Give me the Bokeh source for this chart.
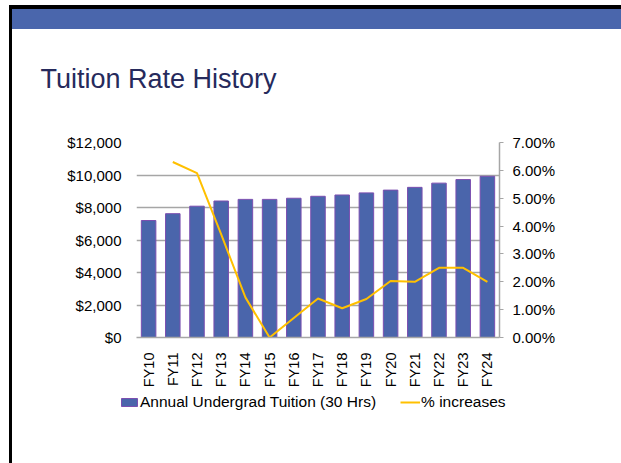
from bokeh.plotting import figure
from bokeh.layouts import column
from bokeh.models import (Range1d, LinearAxis, FixedTicker, NumeralTickFormatter,
                          Legend, LegendItem, ColumnDataSource, Label)
from bokeh.embed import file_html
from bokeh.resources import INLINE
from math import pi, nan

# ---- data ----
years = ["FY10", "FY11", "FY12", "FY13", "FY14", "FY15", "FY16", "FY17",
         "FY18", "FY19", "FY20", "FY21", "FY22", "FY23", "FY24"]
tuition = [7200, 7620, 8080, 8400, 8500, 8500, 8570, 8690,
           8770, 8900, 9070, 9240, 9500, 9720, 9920]
pct_years = ["FY11", "FY12", "FY13", "FY14", "FY15", "FY16", "FY17",
             "FY18", "FY19", "FY20", "FY21", "FY22", "FY23", "FY24"]
pct_increase = [0.063, 0.059, 0.037, 0.0144, 0.0, 0.007, 0.014,
                0.0105, 0.0138, 0.0203, 0.020, 0.025, 0.025, 0.020]
left_ticks = [0, 2000, 4000, 6000, 8000, 10000, 12000]
right_ticks = [0.0, 0.01, 0.02, 0.03, 0.04, 0.05, 0.06, 0.07]
chart_title = "Tuition Rate History"
bar_label = "Annual Undergrad Tuition (30 Hrs)"
line_label = "% increases"

FONT = "Liberation Sans"
BAR_FILL, BAR_LINE, LINE_COLOR = "#4a65ab", "#7b4fb0", "#ffc000"
W = 621
H_HEAD, H_MAIN, H_LEG = 130, 260, 73
FL, FR = 136, 499
FT, FB = 142 - H_HEAD, 339 - H_HEAD


def no_align(f):
    if "frame_align" in f.properties():
        f.frame_align = False
    return f


def bare(height, xr, yr):
    f = figure(width=W, height=height, x_range=xr, y_range=yr,
               output_backend="svg", toolbar_location=None,
               x_axis_location=None, y_axis_location=None,
               min_border_left=0, min_border_right=0,
               min_border_top=0, min_border_bottom=0)
    f.outline_line_color = None
    f.background_fill_color = None
    f.border_fill_color = None
    f.grid.grid_line_color = None
    return no_align(f)


# ---- header (title) ----
head = bare(H_HEAD, Range1d(0, W), Range1d(H_HEAD, 0))
head.add_layout(Label(x=40, y=78, text=chart_title, text_font=FONT,
                      text_font_size="27px", text_color="#262a5c",
                      text_baseline="alphabetic", text_align="left"))

# ---- main chart ----
p = figure(width=W, height=H_MAIN, x_range=years, y_range=Range1d(0, 12000),
           output_backend="svg", toolbar_location=None,
           min_border_left=FL, min_border_right=W - FR,
           min_border_top=FT, min_border_bottom=H_MAIN - FB)
no_align(p)
p.outline_line_color = None
p.background_fill_color = "white"
p.border_fill_color = None
p.extra_y_ranges = {"pct": Range1d(0, 0.07)}

ax = p.yaxis[0]
ax.ticker = FixedTicker(ticks=left_ticks)
ax.formatter = NumeralTickFormatter(format="$0,0")
ax.axis_line_color = None
ax.major_tick_line_color = None
ax.minor_tick_line_color = None
ax.major_label_standoff = 9
ax.major_label_text_font = FONT
ax.major_label_text_font_size = "15px"
ax.major_label_text_color = "black"

bx = p.xaxis[0]
bx.axis_line_color = "#a6a6a6"
bx.axis_line_width = 1.5
bx.major_tick_line_color = None
bx.minor_tick_line_color = None
bx.major_label_orientation = pi / 2
bx.major_label_standoff = 9
bx.major_label_text_font = FONT
bx.major_label_text_font_size = "14.5px"
bx.major_label_text_color = "black"

rax = LinearAxis(y_range_name="pct", ticker=FixedTicker(ticks=right_ticks),
                 formatter=NumeralTickFormatter(format="0.00%"))
rax.axis_line_color = "#a6a6a6"
rax.axis_line_width = 1.5
rax.major_tick_line_color = "#a6a6a6"
rax.major_tick_out = 4
rax.major_tick_in = 0
rax.minor_tick_line_color = None
rax.major_label_standoff = 9
rax.major_label_text_font = FONT
rax.major_label_text_font_size = "15px"
rax.major_label_text_color = "black"
p.add_layout(rax, "right")

p.xgrid.grid_line_color = None
p.ygrid.grid_line_color = "#a6a6a6"
p.ygrid.grid_line_width = 1.5
p.ygrid.ticker = FixedTicker(ticks=left_ticks)

src = ColumnDataSource(dict(x=years, y=tuition))
p.vbar(x="x", top="y", width=0.6, source=src,
       fill_color=BAR_FILL, line_color=BAR_LINE, line_width=1)
lsrc = ColumnDataSource(dict(x=pct_years, y=pct_increase))
p.line(x="x", y="y", source=lsrc, y_range_name="pct",
       line_color=LINE_COLOR, line_width=2)

# ---- legend strip (renderers here only supply legend swatches) ----
leg = bare(H_LEG, Range1d(0, 1), Range1d(0, 1))
r_bar = leg.vbar(x=[nan], top=[nan], width=0.6, fill_color=BAR_FILL,
                 line_color=BAR_LINE, line_width=1)
r_line = leg.line(x=[nan], y=[nan], line_color=LINE_COLOR, line_width=2)
legend = Legend(items=[LegendItem(label=bar_label, renderers=[r_bar]),
                       LegendItem(label=line_label, renderers=[r_line])],
                orientation="horizontal", location=(119, 52),
                padding=0, margin=0, spacing=24, label_standoff=1,
                glyph_width=20, glyph_height=10, label_height=18,
                border_line_color=None, background_fill_alpha=0,
                label_text_font=FONT, label_text_font_size="15.5px",
                label_text_color="black")
leg.add_layout(legend, "center")

layout = column(head, p, leg, spacing=0)
layout.styles = {
    "background": ("linear-gradient(#000,#000) 9px 5px / 3px 100% no-repeat, "
                   "linear-gradient(#000,#000) 9px 5px / 100% 4px no-repeat, "
                   "linear-gradient(#4a66ac,#4a66ac) 12px 9px / 100% 20px no-repeat, "
                   "#ffffff")
}

open("out.html", "w").write(file_html(layout, INLINE))
